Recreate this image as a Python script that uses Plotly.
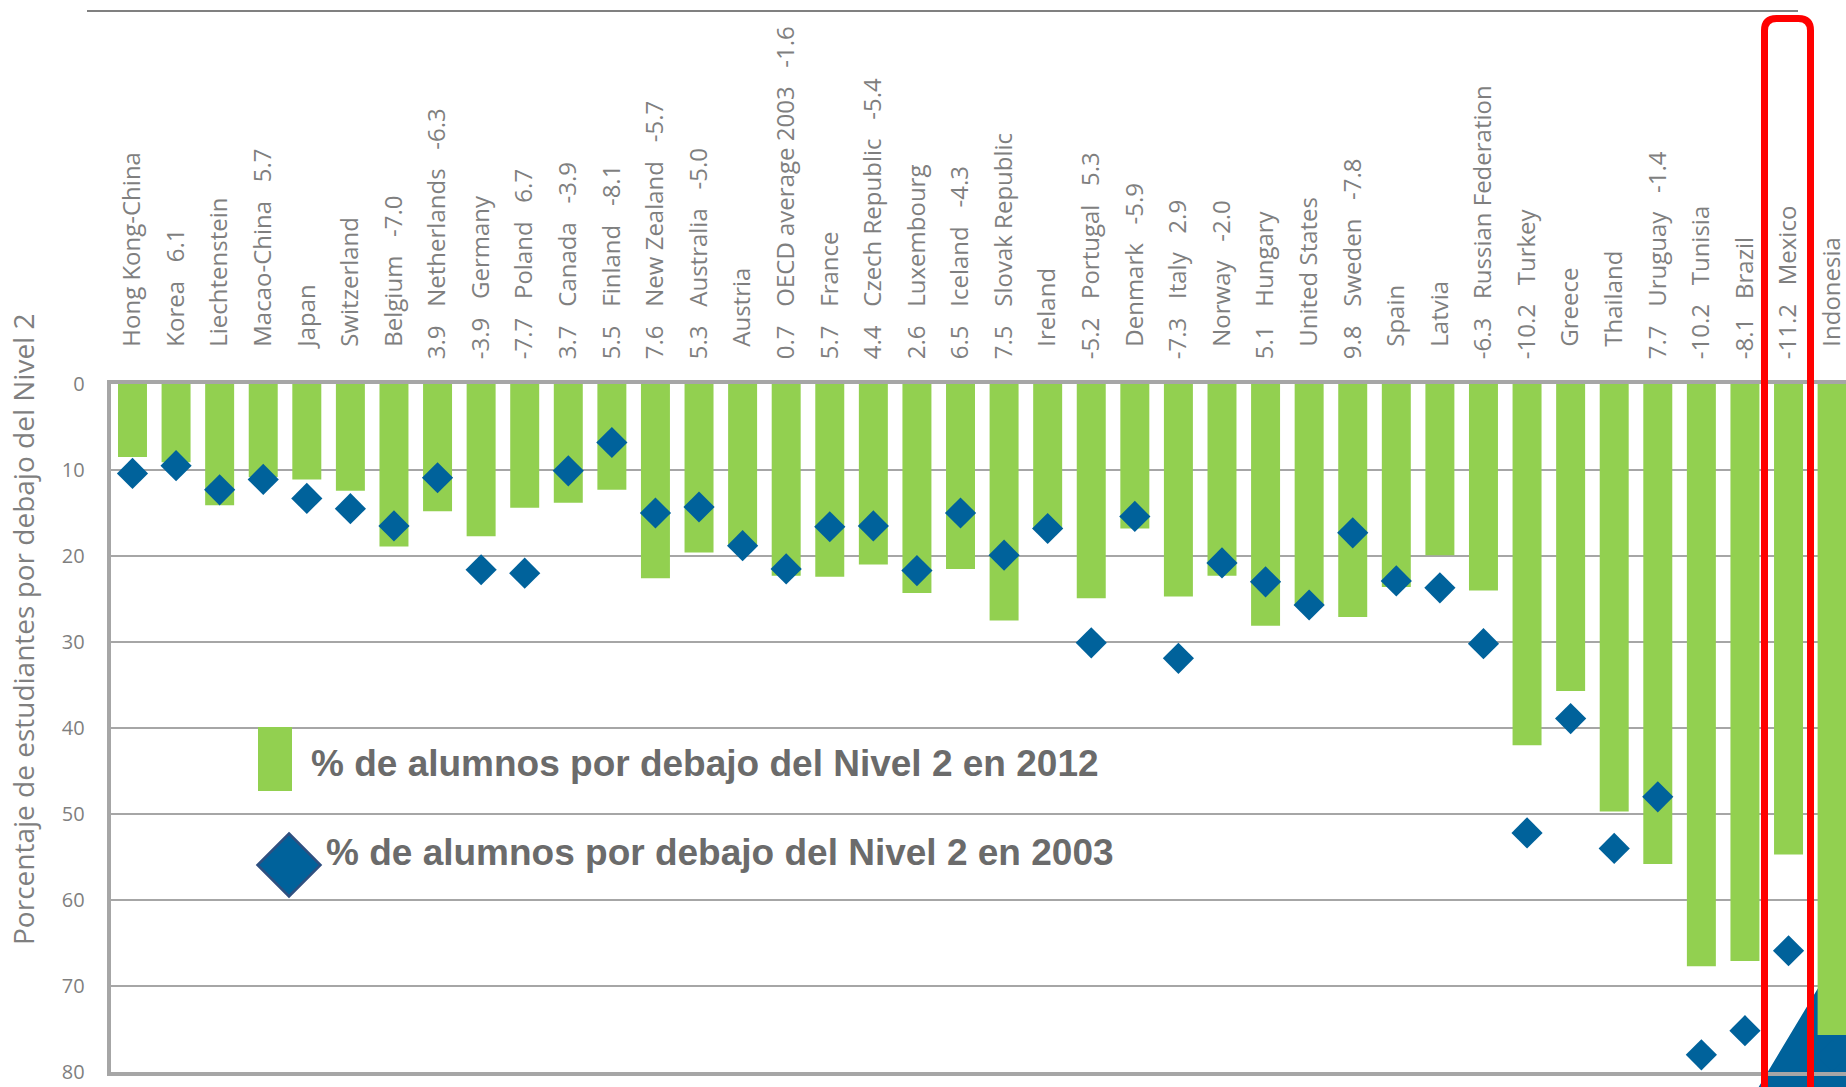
import plotly.graph_objects as go

W, H = 1846, 1087

countries = ["Hong Kong-China", "Korea", "Liechtenstein", "Macao-China", "Japan",
             "Switzerland", "Belgium", "Netherlands", "Germany", "Poland",
             "Canada", "Finland", "New Zealand", "Australia", "Austria",
             "OECD average 2003", "France", "Czech Republic", "Luxembourg", "Iceland",
             "Slovak Republic", "Ireland", "Portugal", "Denmark", "Italy",
             "Norway", "Hungary", "United States", "Sweden", "Spain",
             "Latvia", "Russian Federation", "Turkey", "Greece", "Thailand",
             "Uruguay", "Tunisia", "Brazil", "Mexico", "Indonesia"]
chg_left = ["", "", "", "", "", "", "", "3.9", "-3.9", "-7.7",
            "3.7", "5.5", "7.6", "5.3", "", "0.7", "5.7", "4.4", "2.6", "6.5",
            "7.5", "", "-5.2", "", "-7.3", "", "5.1", "", "9.8", "",
            "", "-6.3", "-10.2", "", "", "7.7", "-10.2", "-8.1", "-11.2", ""]
chg_right = ["", "6.1", "", "5.7", "", "", "-7.0", "-6.3", "", "6.7",
             "-3.9", "-8.1", "-5.7", "-5.0", "", "-1.6", "", "-5.4", "", "-4.3",
             "", "", "5.3", "-5.9", "2.9", "-2.0", "", "", "-7.8", "",
             "", "", "", "", "", "-1.4", "", "", "", ""]
pct_2012 = [8.5, 9.1, 14.1, 10.8, 11.1, 12.4, 18.9, 14.8, 17.7, 14.4,
            13.8, 12.3, 22.6, 19.6, 18.7, 22.3, 22.4, 21.0, 24.3, 21.5,
            27.5, 16.9, 24.9, 16.8, 24.7, 22.3, 28.1, 25.8, 27.1, 23.6,
            19.9, 24.0, 42.0, 35.7, 49.7, 55.8, 67.7, 67.1, 54.7, 75.7]
pct_2003 = [10.4, 9.5, 12.3, 11.1, 13.3, 14.5, 16.5, 10.9, 21.6, 22.0,
            10.1, 6.8, 15.0, 14.3, 18.8, 21.5, 16.6, 16.5, 21.7, 15.0,
            19.9, 16.8, 30.1, 15.4, 31.9, 20.8, 23.0, 25.7, 17.3, 22.9,
            23.7, 30.2, 52.2, 38.9, 54.0, 48.0, 78.0, 75.2, 65.9, 78.1]
y_ticks = [0, 10, 20, 30, 40, 50, 60, 70, 80]
legend_2012 = "% de alumnos por debajo del Nivel 2 en 2012"
legend_2003 = "% de alumnos por debajo del Nivel 2 en 2003"
y_title = "Porcentaje de estudiantes por debajo del Nivel 2"

NB = "\u00a0"


def make_label(left, name, right):
    s = (left + NB * 3) if left else NB * 2
    s += name
    if right:
        s += NB * 3 + right
    return s


tick_labels = [make_label(l, n, r) for l, n, r in zip(chg_left, countries, chg_right)]

GREEN = "#92D050"
BLUE = "#00629B"
GRAY = "#A6A6A6"
TXT = "#7F7F7F"


def X(p):
    return p / W


def Y(p):
    return 1 - p / H


plot_left, plot_top, plot_bottom = 110.7, 384.0, 1072.0
slot = 43.58
x_max = -0.5 + (W - plot_left) / slot

fig = go.Figure()
fig.add_trace(go.Bar(x=tick_labels, y=pct_2012, marker=dict(color=GREEN, line=dict(width=0)),
                     name=legend_2012, showlegend=False))
fig.add_trace(go.Scatter(x=tick_labels, y=pct_2003, mode="markers",
                         marker=dict(symbol="diamond", size=24, color=BLUE, line=dict(width=0)),
                         name=legend_2003, showlegend=False))

shapes = []
# decorative blue triangle (bottom-right corner)
tri = [(1753, 1095), (1900, 850), (1900, 1095)]
shapes.append(dict(type="path", xref="paper", yref="paper", layer="below",
                   path="M {} {} L {} {} L {} {} Z".format(X(tri[0][0]), Y(tri[0][1]), X(tri[1][0]), Y(tri[1][1]),
                                                          X(tri[2][0]), Y(tri[2][1])),
                   fillcolor=BLUE, line=dict(color="white", width=1.5)))
# top thin line
shapes.append(dict(type="line", xref="paper", yref="paper", x0=X(87), x1=X(1798), y0=Y(11), y1=Y(11),
                   line=dict(color="#808080", width=2)))
# legend swatch
shapes.append(dict(type="rect", xref="paper", yref="paper", x0=X(258), x1=X(292), y0=Y(727), y1=Y(791),
                   fillcolor=GREEN, line=dict(width=0)))
cx, cy, r = 289, 865, 31.5
shapes.append(dict(type="path", xref="paper", yref="paper",
                   path="M {} {} L {} {} L {} {} L {} {} Z".format(X(cx), Y(cy - r), X(cx + r), Y(cy),
                                                                    X(cx), Y(cy + r), X(cx - r), Y(cy)),
                   fillcolor=BLUE, line=dict(color="#2E4F80", width=2.5)))
# red highlight box around Mexico
x0, x1, top, bot, rr = 1764.5, 1810.5, 18.5, 1110, 12
red_path = ("M {a} {b} L {a} {c} Q {a} {d} {e} {d} L {f} {d} Q {g} {d} {g} {c} L {g} {b}").format(
    a=X(x0), b=Y(bot), c=Y(top + rr), d=Y(top), e=X(x0 + rr), f=X(x1 - rr), g=X(x1))
shapes.append(dict(type="path", xref="paper", yref="paper", layer="above", path=red_path,
                   line=dict(color="#FF0000", width=7)))

annotations = [
    dict(xref="paper", yref="paper", x=X(23), y=Y(630), text=y_title, textangle=-90, showarrow=False,
         xanchor="center", yanchor="middle", font=dict(family="Open Sans", size=28, color=TXT)),
    dict(xref="paper", yref="paper", x=X(309), y=Y(763), text="<b>" + legend_2012 + "</b>", showarrow=False,
         xanchor="left", yanchor="middle", font=dict(family="Liberation Sans", size=37, color="#6B6B6B")),
    dict(xref="paper", yref="paper", x=X(324), y=Y(852), text="<b>" + legend_2003 + "</b>", showarrow=False,
         xanchor="left", yanchor="middle", font=dict(family="Liberation Sans", size=37, color="#6B6B6B")),
]

fig.update_layout(
    width=W, height=H,
    margin=dict(l=0, r=0, t=0, b=0, pad=0),
    paper_bgcolor="white", plot_bgcolor="rgba(0,0,0,0)",
    bargap=0.335,
    showlegend=False,
    shapes=shapes,
    annotations=annotations,
    xaxis=dict(domain=[X(plot_left), 1.0], side="top", type="category",
               categoryorder="array", categoryarray=tick_labels,
               range=[-0.5, x_max], tickangle=-90, ticks="", showgrid=False,
               showline=True, linecolor=GRAY, linewidth=4, mirror=True,
               ticklabelstandoff=16, automargin=False,
               tickfont=dict(family="Open Sans", size=24, color=TXT)),
    yaxis=dict(domain=[Y(plot_bottom), Y(plot_top)], range=[80, 0],
               tickvals=y_ticks, ticktext=[str(v) for v in y_ticks],
               showgrid=True, gridcolor=GRAY, gridwidth=2, zeroline=False,
               showline=True, linecolor=GRAY, linewidth=4, ticks="",
               ticklabelstandoff=18, automargin=False,
               tickfont=dict(family="Open Sans", size=20, color=TXT)),
)

fig.write_html("out.html", config={"displayModeBar": False},
               post_script="document.body.style.margin='0';document.body.style.overflow='hidden';")
